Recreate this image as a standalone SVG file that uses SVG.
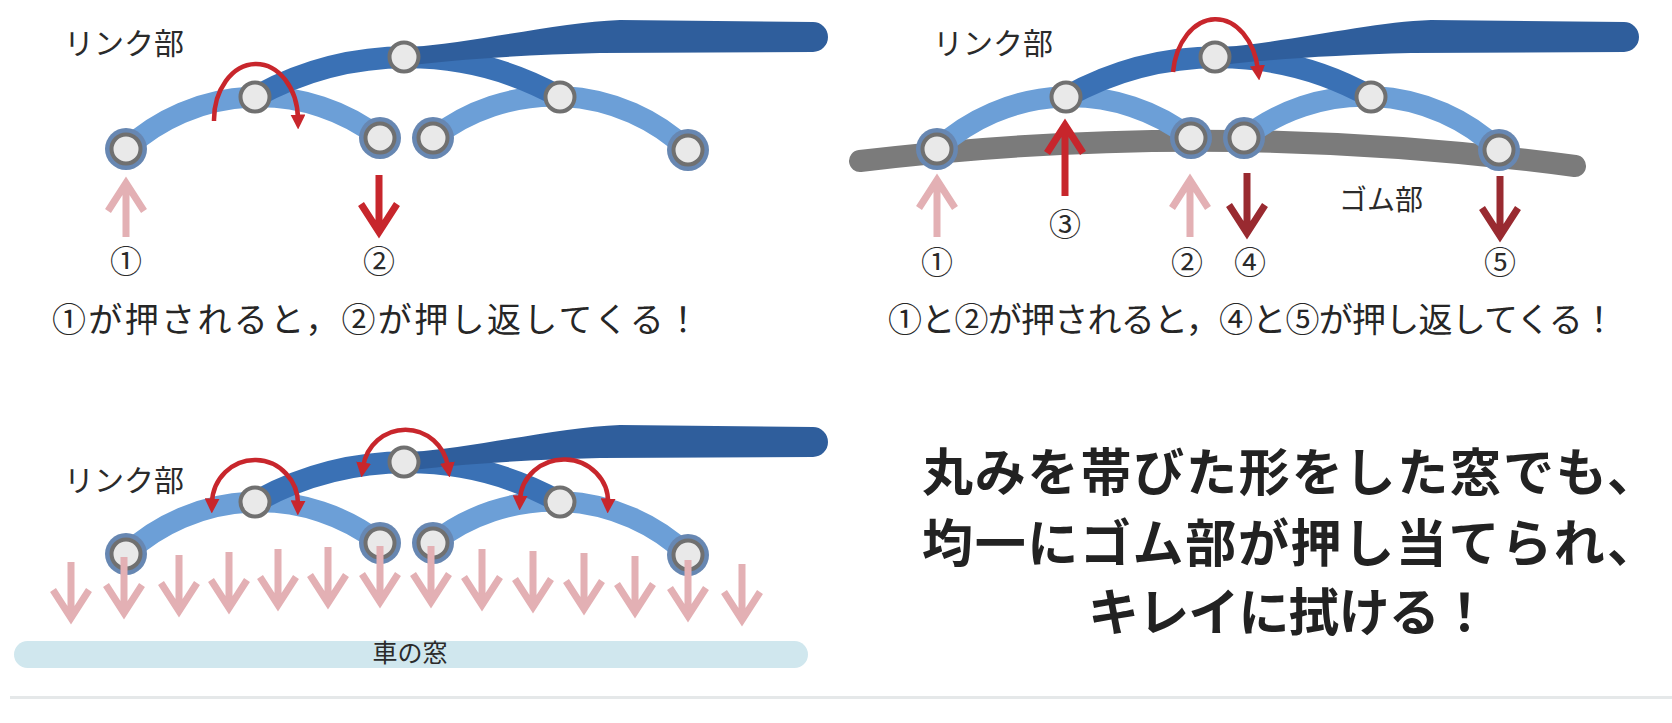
<svg xmlns="http://www.w3.org/2000/svg" xmlns:xlink="http://www.w3.org/1999/xlink" width="1672" height="723" viewBox="0 0 1672 723">
  <style>
    .lite { fill: none; stroke: #6c9fd7; stroke-width: 21; }
    .dark { fill: none; stroke: #3a71b5; stroke-width: 22; }
    .handle { fill: #2f5e9c; }
    .rubber { fill: none; stroke: #7b7b7b; stroke-width: 22; stroke-linecap: round; }
    .rot { fill: none; stroke: #c8262c; stroke-width: 4.5; }
    .push { fill: none; stroke-width: 7; stroke-linejoin: miter; stroke-miterlimit: 6; }
    .pink { stroke: #e3b0b4; }
    .red { stroke: #c7262c; }
    .maroon { stroke: #992a30; }
    .lbl { font-family: "Noto Sans CJK JP", "Noto Sans", sans-serif; fill: #2b2b2b; }
    .num { font-family: "Noto Sans CJK JP", "Noto Sans", sans-serif; fill: #2b2b2b; font-size: 32px; text-anchor: middle; }
    .cap { font-family: "Noto Sans CJK JP", "Noto Sans", sans-serif; fill: #262626; font-size: 34px; }
    .big { font-family: "Noto Sans CJK JP", "Noto Sans", sans-serif; fill: #222; font-size: 51px; font-weight: 700; }
  </style>
  <defs>
    <marker id="rh" viewBox="0 0 10 10" refX="3" refY="5" markerWidth="15" markerHeight="15" markerUnits="userSpaceOnUse" orient="auto-start-reverse">
      <path d="M0,0 L10,5 L0,10 z" fill="#c8262c"/>
    </marker>
    <!-- pin joint between two links -->
    <g id="joint">
      <circle r="14.5" fill="#e9e9e9" stroke="#707070" stroke-width="4"/>
    </g>
    <!-- end pin that carries the rubber blade -->
    <g id="tip">
      <circle r="21" fill="#6787b2"/>
      <circle r="14.5" fill="#e9e9e9" stroke="#707070" stroke-width="4"/>
    </g>
    <!-- the link frame shared by all three views -->
    <g id="frame">
      <path class="lite" d="M126 149 A197 197 0 0 1 380 138"/>
      <path class="lite" d="M433 138 A195 195 0 0 1 688 150"/>
      <path class="dark" d="M255 97 A313 313 0 0 1 560 97"/>
      <path class="handle" d="M404 48 C480 42 560 22 620 20 L813 22 A15 15 0 0 1 813 52 L600 53 C520 55 450 60 404 66 Z"/>
    </g>
  </defs>

  <rect width="1672" height="723" fill="#ffffff"/>
  <rect x="10" y="696" width="1662" height="3" fill="#e5e8e9"/>

  <!-- view 1: single push -->
  <g id="view1">
    <use xlink:href="#frame"/>
    <g id="v1-a"><use xlink:href="#tip" x="126" y="149"/></g>
    <g id="v1-b"><use xlink:href="#joint" x="255" y="97"/></g>
    <g id="v1-c"><use xlink:href="#joint" x="404" y="57"/></g>
    <g id="v1-d"><use xlink:href="#tip" x="380" y="138"/></g>
    <g id="v1-e"><use xlink:href="#tip" x="433" y="138"/></g>
    <g id="v1-f"><use xlink:href="#joint" x="560" y="97"/></g>
    <g id="v1-g"><use xlink:href="#tip" x="688" y="150"/></g>
    <g id="v1-arrows">
      <path class="rot" d="M214 121 A42 56 0 0 1 298 119" marker-end="url(#rh)"/>
      <path class="push pink" d="M126 237 V184 M108 211 L126 183 L144 211"/>
      <path class="push red" d="M379 175 V231 M361 204 L379 232 L397 204"/>
    </g>
    <text class="lbl" x="64" y="54" font-size="30">リンク部</text>
    <text class="num" x="126" y="273">①</text>
    <text class="num" x="379" y="273">②</text>
    <text class="cap" x="52" y="332" textLength="648" lengthAdjust="spacing">①が押されると，②が押し返してくる！</text>
  </g>

  <!-- view 2: link frame on the rubber blade -->
  <g id="view2" transform="translate(811,0)">
    <path class="rubber" d="M49 161 Q405 118 764 166"/>
    <use xlink:href="#frame"/>
    <g id="v2-a"><use xlink:href="#tip" x="126" y="149"/></g>
    <g id="v2-b"><use xlink:href="#joint" x="255" y="97"/></g>
    <g id="v2-c"><use xlink:href="#joint" x="404" y="57"/></g>
    <g id="v2-d"><use xlink:href="#tip" x="380" y="138"/></g>
    <g id="v2-e"><use xlink:href="#tip" x="433" y="138"/></g>
    <g id="v2-f"><use xlink:href="#joint" x="560" y="97"/></g>
    <g id="v2-g"><use xlink:href="#tip" x="688" y="150"/></g>
    <g id="v2-arrows">
      <path class="rot" d="M362 72 A43 61 0 0 1 447 70" marker-end="url(#rh)"/>
      <path class="push pink" d="M126 237 V181 M108 208 L126 180 L144 208"/>
      <path class="push red" d="M254 196 V127 M236 153 L254 125 L272 153"/>
      <path class="push pink" d="M379 237 V181 M361 208 L379 180 L397 208"/>
      <path class="push maroon" d="M436 173 V231 M418 205 L436 233 L454 205"/>
      <path class="push maroon" d="M689 176 V234 M671 208 L689 236 L707 208"/>
    </g>
    <text class="lbl" x="122" y="54" font-size="30">リンク部</text>
    <text class="lbl" x="570" y="210" font-size="28" text-anchor="middle">ゴム部</text>
    <text class="num" x="126" y="274">①</text>
    <text class="num" x="254" y="236">③</text>
    <text class="num" x="376" y="274">②</text>
    <text class="num" x="439" y="274">④</text>
    <text class="num" x="689" y="274">⑤</text>
  </g>
  <text class="cap" x="888" y="332" textLength="728" lengthAdjust="spacing">①と②が押されると，④と⑤が押し返してくる！</text>

  <!-- view 3: even pressure on the glass -->
  <g id="view3" transform="translate(0,405)">
    <use xlink:href="#frame"/>
    <g id="v3-a"><use xlink:href="#tip" x="126" y="149"/></g>
    <g id="v3-b"><use xlink:href="#joint" x="255" y="97"/></g>
    <g id="v3-c"><use xlink:href="#joint" x="404" y="57"/></g>
    <g id="v3-d"><use xlink:href="#tip" x="380" y="138"/></g>
    <g id="v3-e"><use xlink:href="#tip" x="433" y="138"/></g>
    <g id="v3-f"><use xlink:href="#joint" x="560" y="97"/></g>
    <g id="v3-g"><use xlink:href="#tip" x="688" y="150"/></g>
    <g id="v3-swing">
      <path class="rot" d="M363 62 A43 44 0 0 1 448 62" marker-start="url(#rh)" marker-end="url(#rh)"/>
      <path class="rot" d="M212 98 A43 44 0 0 1 298 100" marker-start="url(#rh)" marker-end="url(#rh)"/>
      <path class="rot" d="M520 95 A44 42 0 0 1 608 98" marker-start="url(#rh)" marker-end="url(#rh)"/>
    </g>
    <text class="lbl" x="64" y="86" font-size="30">リンク部</text>
  </g>

  <!-- pressure spread along the blade -->
  <g id="v3-pressure" class="push pink">
    <path d="M71 562 V617 M53 590 L71 618 L89 590"/>
    <path d="M124 557 V612 M106 585 L124 613 L142 585"/>
    <path d="M179 555 V610 M161 583 L179 611 L197 583"/>
    <path d="M229 552 V607 M211 580 L229 608 L247 580"/>
    <path d="M278 549 V604 M260 577 L278 605 L296 577"/>
    <path d="M328 547 V602 M310 575 L328 603 L346 575"/>
    <path d="M380 546 V601 M362 574 L380 602 L398 574"/>
    <path d="M431 546 V601 M413 574 L431 602 L449 574"/>
    <path d="M482 549 V604 M464 577 L482 605 L500 577"/>
    <path d="M533 551 V606 M515 579 L533 607 L551 579"/>
    <path d="M584 553 V608 M566 581 L584 609 L602 581"/>
    <path d="M635 556 V611 M617 584 L635 612 L653 584"/>
    <path d="M688 560 V615 M670 588 L688 616 L706 588"/>
    <path d="M742 564 V619 M724 592 L742 620 L760 592"/>
  </g>

  <g id="window">
    <rect x="14" y="641" width="794" height="27" rx="13.5" fill="#d0e7ee"/>
    <text class="lbl" x="410" y="662" font-size="25" text-anchor="middle">車の窓</text>
  </g>

  <g id="summary">
    <text class="big" x="922" y="491" textLength="736" lengthAdjust="spacing">丸みを帯びた形をした窓でも、</text>
    <text class="big" x="922" y="562" textLength="736" lengthAdjust="spacing">均一にゴム部が押し当てられ、</text>
    <text class="big" x="1088" y="631" textLength="402" lengthAdjust="spacing">キレイに拭ける！</text>
  </g>
</svg>
